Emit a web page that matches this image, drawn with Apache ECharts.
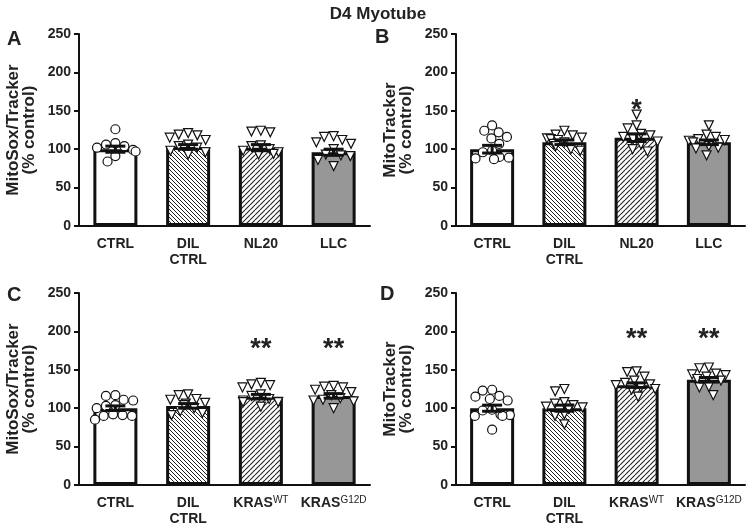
<!DOCTYPE html>
<html><head><meta charset="utf-8">
<script src="https://cdn.jsdelivr.net/npm/echarts@6/dist/echarts.min.js"></script>
<style>html,body{margin:0;padding:0;background:#fff}#c{width:747px;height:530px}</style>
</head><body><div id="c"></div>
<script>
// ---------- data ----------
const catsTop = ['CTRL', 'DIL CTRL', 'NL20', 'LLC'];
const catsBottom = ['CTRL', 'DIL CTRL', 'KRASWT', 'KRASG12D'];
const tickLabelsTop = ['CTRL', 'DIL\nCTRL', 'NL20', 'LLC'];
const tickLabelsBottom = ['CTRL', 'DIL\nCTRL', 'KRAS{sup|WT}', 'KRAS{sup|G12D}'];
const yTicks = [0, 50, 100, 150, 200, 250];

// Panel A: MitoSox/Tracker
const meanA = [100, 103, 102, 96];
const semA = [4, 3, 4, 4];
const ptsA_CTRL = [126, 108, 106, 104, 102, 99, 97, 91, 84];
const ptsA_DIL = [121, 119, 118, 115, 112, 106, 104, 102, 98, 96, 93];
const ptsA_NL20 = [124, 123, 122, 105, 104, 100, 98, 96, 94, 93];
const ptsA_LLC = [117, 116, 112, 109, 107, 100, 93, 92, 91, 86, 78];
const sigA = ['', '', '', ''];
const sigA_y = [0, 0, 0, 0];

// Panel B: MitoTracker
const meanB = [100, 109, 115, 109];
const semB = [5, 3, 5, 3];
const ptsB_CTRL = [131, 124, 122, 116, 114, 107, 98, 96, 90, 89, 88, 87];
const ptsB_DIL = [124, 119, 118, 115, 114, 113, 112, 109, 107, 104, 100, 98];
const ptsB_NL20 = [145, 131, 127, 120, 118, 116, 113, 110, 106, 100, 97];
const ptsB_LLC = [131, 119, 116, 113, 112, 111, 109, 104, 102, 101, 92];
const sigB = ['', '', '*', ''];
const sigB_y = [0, 0, 160, 0];

// Panel C: MitoSox/Tracker
const meanC = [100, 103, 115, 116];
const semC = [3, 3, 3, 3];
const ptsC_CTRL = [117, 116, 111, 110, 104, 103, 100, 92, 91, 90, 90, 85];
const ptsC_DIL = [118, 117, 112, 111, 107, 106, 104, 100, 96, 94, 91];
const ptsC_KRASWT = [133, 131, 130, 127, 118, 116, 112, 110, 108, 108, 102];
const ptsC_KRASG12D = [129, 128, 127, 124, 121, 117, 113, 111, 110, 109, 100];
const sigC = ['', '', '**', '**'];
const sigC_y = [0, 0, 186, 186];

// Panel D: MitoTracker
const meanD = [100, 100, 130, 137];
const semD = [4, 4, 3, 3];
const ptsD_CTRL = [124, 123, 116, 115, 112, 110, 98, 97, 92, 91, 90, 90, 72];
const ptsD_DIL = [125, 122, 108, 106, 104, 102, 101, 99, 92, 90, 79];
const ptsD_KRASWT = [148, 147, 141, 136, 133, 131, 130, 127, 125, 124, 115];
const ptsD_KRASG12D = [153, 152, 145, 144, 143, 141, 138, 136, 128, 127, 117];
const sigD = ['', '', '**', '**'];
const sigD_y = [0, 0, 199, 199];

// ---------- styling helpers ----------
function hatch(size, dir, lw) {
  const c = document.createElement('canvas');
  c.width = size; c.height = size;
  const g = c.getContext('2d');
  g.fillStyle = '#fff'; g.fillRect(0, 0, size, size);
  g.strokeStyle = '#222'; g.lineWidth = lw;
  for (let k = -1; k <= 1; k++) {
    g.beginPath();
    if (dir === 'back') { g.moveTo(k * size, 0); g.lineTo(k * size + size, size); }
    else { g.moveTo(k * size, size); g.lineTo(k * size + size, 0); }
    g.stroke();
  }
  return c;
}
const fills = [
  '#ffffff',
  { image: hatch(4, 'back', 1.0), repeat: 'repeat' },
  { image: hatch(5, 'fwd', 1.1), repeat: 'repeat' },
  '#979797'
];
const FONT = '"Liberation Sans", Arial, Helvetica, sans-serif';
const TXT = '#222';

const grids = [
  { left: 79, right: 377, top: 34, bottom: 304 },
  { left: 456, right: 2, top: 34, bottom: 304 },
  { left: 79, right: 377, top: 293, bottom: 45 },
  { left: 456, right: 2, top: 293, bottom: 45 }
];
const yNames = ['MitoSox/Tracker\n(% control)', 'MitoTracker\n(% control)', 'MitoSox/Tracker\n(% control)', 'MitoTracker\n(% control)'];
const panels = [
  { cats: catsTop, labels: tickLabelsTop, mean: meanA, sem: semA, pts: [ptsA_CTRL, ptsA_DIL, ptsA_NL20, ptsA_LLC], sig: sigA, sigY: sigA_y },
  { cats: catsTop, labels: tickLabelsTop, mean: meanB, sem: semB, pts: [ptsB_CTRL, ptsB_DIL, ptsB_NL20, ptsB_LLC], sig: sigB, sigY: sigB_y },
  { cats: catsBottom, labels: tickLabelsBottom, mean: meanC, sem: semC, pts: [ptsC_CTRL, ptsC_DIL, ptsC_KRASWT, ptsC_KRASG12D], sig: sigC, sigY: sigC_y },
  { cats: catsBottom, labels: tickLabelsBottom, mean: meanD, sem: semD, pts: [ptsD_CTRL, ptsD_DIL, ptsD_KRASWT, ptsD_KRASG12D], sig: sigD, sigY: sigD_y }
];

const xAxes = [], yAxes = [], series = [];
panels.forEach((p, k) => {
  xAxes.push({
    type: 'category', gridIndex: k, data: p.cats,
    jitter: 42, jitterOverlap: false, jitterMargin: 0.5,
    axisLine: { lineStyle: { color: '#111', width: 2 } },
    axisTick: { alignWithLabel: true, length: 5, lineStyle: { color: '#111', width: 2 } },
    axisLabel: {
      interval: 0, margin: 10, color: TXT, fontFamily: FONT, fontWeight: 'bold', fontSize: 14, lineHeight: 16,
      formatter: (v, i) => p.labels[i],
      rich: { sup: { fontSize: 10, fontWeight: 'normal', fontFamily: FONT, color: TXT, verticalAlign: 'top', lineHeight: 16 } }
    },
    splitLine: { show: false }
  });
  yAxes.push({
    type: 'value', gridIndex: k, min: yTicks[0], max: yTicks[yTicks.length - 1], interval: 50,
    name: yNames[k], nameLocation: 'middle', nameGap: 42,
    nameTextStyle: { color: TXT, fontFamily: FONT, fontWeight: 'bold', fontSize: 17, lineHeight: 16 },
    axisLine: { show: true, lineStyle: { color: '#111', width: 2 } },
    axisTick: { show: true, length: 5, lineStyle: { color: '#111', width: 2 } },
    axisLabel: { color: TXT, fontFamily: FONT, fontWeight: 'bold', fontSize: 14, margin: 8 },
    splitLine: { show: false }
  });
  series.push({
    type: 'bar', xAxisIndex: k, yAxisIndex: k, barWidth: 44, z: 2,
    data: p.mean.map((m, i) => ({ value: m, itemStyle: { color: fills[i], borderColor: '#111', borderWidth: 3 } })),
    silent: true
  });
  // data points
  const circ = [], tri = [];
  p.pts.forEach((arr, i) => arr.forEach(v => (i === 0 ? circ : tri).push([i, v])));
  series.push({
    type: 'scatter', xAxisIndex: k, yAxisIndex: k, z: 4, symbol: 'circle', symbolSize: 9,
    itemStyle: { color: '#fff', borderColor: '#111', borderWidth: 1.2, opacity: 1 }, data: circ
  });
  series.push({
    type: 'scatter', xAxisIndex: k, yAxisIndex: k, z: 4, symbol: 'triangle', symbolRotate: 180, symbolSize: 9,
    itemStyle: { color: '#fff', borderColor: '#111', borderWidth: 1.2, opacity: 1 }, data: tri
  });
  // error bars (SEM)
  series.push({
    type: 'custom', xAxisIndex: k, yAxisIndex: k, z: 6,
    renderItem(params, api) {
      const i = api.value(0), m = api.value(1), s = api.value(2);
      const t = api.coord([i, m + s]), b = api.coord([i, m - s]);
      const hw = 10;
      const st = { stroke: '#111', lineWidth: 3 };
      return { type: 'group', children: [
        { type: 'line', shape: { x1: t[0], y1: t[1], x2: b[0], y2: b[1] }, style: st },
        { type: 'line', shape: { x1: t[0] - hw, y1: t[1], x2: t[0] + hw, y2: t[1] }, style: st },
        { type: 'line', shape: { x1: b[0] - hw, y1: b[1], x2: b[0] + hw, y2: b[1] }, style: st }
      ] };
    },
    data: p.mean.map((m, i) => [i, m, p.sem[i]])
  });
  // significance stars
  series.push({
    type: 'custom', xAxisIndex: k, yAxisIndex: k, z: 7,
    renderItem(params, api) {
      const txt = p.sig[params.dataIndex];
      if (!txt) return null;
      const c = api.coord([api.value(0), api.value(1)]);
      return { type: 'text', x: c[0], y: c[1] + 7, style: { text: txt, fill: TXT, font: 'bold 27px ' + FONT, align: 'center', verticalAlign: 'middle' } };
    },
    data: p.sigY.map((v, i) => [i, v])
  });
});

const chart = echarts.init(document.getElementById('c'), null, { renderer: 'canvas' });
chart.setOption({
  animation: false,
  backgroundColor: '#fff',
  title: [
    { text: 'D4 Myotube', left: 373, top: 1, textAlign: 'center', textStyle: { fontFamily: FONT, fontWeight: 'bold', fontSize: 17, color: TXT } },
    { text: 'A', left: 2, top: 24, textStyle: { fontFamily: FONT, fontWeight: 'bold', fontSize: 20, color: TXT } },
    { text: 'B', left: 370, top: 22, textStyle: { fontFamily: FONT, fontWeight: 'bold', fontSize: 20, color: TXT } },
    { text: 'C', left: 2, top: 280, textStyle: { fontFamily: FONT, fontWeight: 'bold', fontSize: 20, color: TXT } },
    { text: 'D', left: 375, top: 279, textStyle: { fontFamily: FONT, fontWeight: 'bold', fontSize: 20, color: TXT } }
  ],
  grid: grids,
  xAxis: xAxes,
  yAxis: yAxes,
  series: series
});
</script>
</body></html>
